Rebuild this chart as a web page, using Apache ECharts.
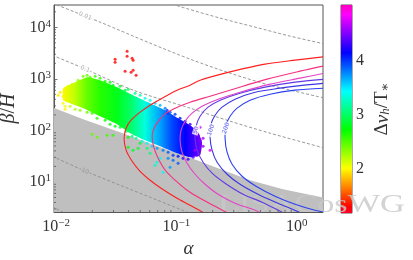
<!DOCTYPE html>
<html><head><meta charset="utf-8">
<script src="https://cdn.jsdelivr.net/npm/echarts@6/dist/echarts.min.js"></script>
<style>html,body{margin:0;padding:0;background:#fff}#c{width:413px;height:260px}</style>
</head><body><div id="c"></div>
<script>
// ---------- axis extents & ticks ----------
const X_MIN = 0.0096, X_MAX = 1.656;
const Y_MIN = 2.61, Y_MAX = 27100;
const C_MIN = 1.19, C_MAX = 5.03;
const xMinorTicks = [0.02,0.03,0.04,0.05,0.06,0.07,0.08,0.09,0.2,0.3,0.4,0.5,0.6,0.7,0.8,0.9];
const yMinorTicks = [3,4,5,6,7,8,9,20,30,40,50,60,70,80,90,200,300,400,500,600,700,800,900,2000,3000,4000,5000,6000,7000,8000,9000,20000];
const colorbarTicks = [2,3,4];

// ---------- excluded (grey) region upper boundary ----------
const excludedAlpha = [0.0093, 0.01677, 0.0340, 0.0732, 0.1486, 0.1905, 0.410, 0.771, 1.70];
const excludedBeta  = [280, 165, 92.3, 47.2, 26.4, 21.1, 10.8, 7.22, 4.95];

// ---------- grey dashed iso-lines ----------
const isoTopAlpha = [0.092, 0.1181, 0.2307, 0.451, 0.881, 1.722];
const isoTopBeta  = [28200, 23600, 15100, 10090, 6750, 4720];
const iso001Alpha = [0.00926, 0.0232, 0.0604, 0.130, 0.279, 0.601, 1.722];
const iso001Beta  = [29500, 12600, 4930, 2413, 1291, 755, 422];
const iso01Alpha  = [0.00926, 0.01677, 0.0437, 0.130, 0.279, 0.601, 1.722];
const iso01Beta   = [2884, 1614, 604, 270, 151, 88.3, 45.1];
const iso10Alpha  = [0.00926, 0.01677, 0.0340, 0.0604, 0.143];
const iso10Beta   = [31.6, 16.9, 8.63, 5.05, 2.25];
const iso100Alpha = [0.00926, 0.01259];
const iso100Beta  = [3.37, 2.25];

// ---------- coloured SNR contours ----------
const c1Alpha = [0.1834,0.1300,0.1013,0.07461,0.06044,0.04991,0.04282,0.03818,0.03674,0.03818,0.04200,0.04991,0.06044,0.07605,0.1013,0.1300,0.1574,0.2960,0.5462,0.9698,1.722];
const c1Beta  = [2.25,3.53,4.82,7.55,10.8,16.1,25.2,41.3,70.6,110.3,157.8,225.6,308.6,421.9,603.5,754.6,943.6,1411,1929,2307,2699];
const c2Alpha = [0.2904,0.2097,0.1574,0.1227,0.09754,0.0821,0.07181,0.06526,0.06281,0.06526,0.07181,0.0821,0.09754,0.1300,0.1905,0.2960,0.5675,1.067,1.722];
const c2Beta  = [2.25,3.37,4.82,6.90,10.8,16.1,26.4,45.1,77.2,110.3,157.8,215.8,270,352.8,461.4,631,987,1411,1804];
const c3Alpha = [0.5462,0.4510,0.3076,0.2222,0.1732,0.1430,0.1227,0.1115,0.1073,0.1094,0.1181,0.1351,0.1635,0.2222,0.3385,0.6010,1.067,1.722];
const c3Beta  = [2.25,2.82,3.86,5.77,9.02,14.1,23.1,37.7,64.5,100.9,150.9,215.8,295.1,403.5,551.7,789.1,1032,1290];
const c4Alpha = [0.8482,0.7278,0.5157,0.3584,0.2540,0.1980,0.1667,0.1486,0.1430,0.1458,0.1574,0.1834,0.2309,0.3385,0.5462,0.9698,1.722];
const c4Beta  = [2.25,2.70,4.04,5.77,9.44,14.8,24.1,41.3,70.6,120.7,188.6,282.2,385.9,527.6,690.0,862.9,987];
const c5Alpha = [1.174,1.008,0.7004,0.4776,0.3385,0.2639,0.2179,0.1980,0.1905,0.1942,0.2097,0.2399,0.3076,0.4510,0.7278,1.067,1.722];
const c5Beta  = [2.25,2.70,3.86,5.77,9.02,14.1,24.1,41.3,73.8,131.9,197.3,282.2,403.5,551.7,659.9,737.9,825.2];
const c6Alpha = [1.895,1.422,0.9698,0.6612,0.4597,0.3516,0.2904,0.2639,0.2540,0.2589,0.2795,0.3196,0.4099,0.6010,0.9698,1.722];
const c6Beta  = [2.47,2.82,3.69,5.28,8.25,12.9,22.1,37.7,70.6,126.2,188.6,270,385.9,504.5,603.5,659.9];

// ---------- contour labels ----------
const labelText  = ['0.01','0.1','10','50','100','200'];
const labelAlpha = [0.01742, 0.01742, 0.01742, 0.1458, 0.1942, 0.2589];
const labelBeta  = [16500, 1543, 16.1, 100.9, 100.9, 110.3];

// ---------- dense band of points (outline + colour along it) ----------
const bandAlpha = [0.01143,0.01438,0.01810,0.02321,0.03214,0.04365,0.06044,0.08055,0.1033,0.1300,0.1515,0.1635,0.1574,0.1300,0.1013,0.0732,0.05492,0.04121,0.03214,0.02321,0.01677,0.01307,0.01143];
const bandBeta  = [659.9,862.9,1079,943.6,690.0,482.5,337.5,246.8,172.5,126.2,92.3,59.0,33.0,30.2,36.1,49.3,64.5,88.2,131.9,188.6,270,337.5,385.9];
const bandStopAlpha = [0.01143,0.01438,0.01810,0.02321,0.03214,0.04121,0.05492,0.0732,0.0921,0.1181,0.1574];
const bandStopDv    = [2.0,2.2,2.45,2.62,2.8,3.0,3.35,3.7,3.95,4.15,4.45];

// ---------- individual points ----------
const pointAlpha = [0.01080,0.01143,0.01259,0.01358,0.01524,0.01677,0.01810,0.01917,0.02110,0.02321,0.02554,0.02811,0.02977,0.03404,0.03746,0.03967,0.04535,0.04991,0.05492,0.06044,0.06652,0.0732,0.08055,0.08863,0.09754,0.1073,0.1181,0.1300,0.1430,0.1515,0.1574,0.1667,
  0.01143,0.01188,0.01307,0.01438,0.01583,0.01810,0.01992,0.02192,0.02554,0.02811,0.03093,0.03404,0.03818,0.04282,0.04624,0.05187,0.05706,0.06281,0.06912,0.07752,0.08531,0.09389,0.1033,0.1137,0.1251,0.1377,0.1486,
  0.01992,0.02192,0.02653,0.02977,0.03967,0.04365,0.04991,0.05706,0.06044,0.06652,0.06912,0.07752,0.0732,0.08863,0.09389,0.1033,0.08531,0.03967,0.04803,
  0.08372,0.08531,0.1181,0.1574,0.1905,0.1430,0.1667,0.01188,0.01039,
  0.03093,0.03093,0.03892,0.03892,0.04282,0.04365,0.03746,0.04200,0.04365,0.04624];
const pointBeta = [551.7,461.4,721.6,789.1,943.6,1128,1180,1079,1128,1032,902.5,862.9,754.6,721.6,603.5,631,527.6,482.5,421.9,385.9,337.5,308.6,270,225.6,206.3,172.5,150.9,131.9,110.3,80.7,64.5,49.3,
  337.5,295.1,295.1,258,246.8,225.6,215.8,172.5,157.8,131.9,120.7,115.4,96.5,77.2,70.6,61.7,56.4,49.3,45.1,41.3,37.7,33.0,31.6,28.9,27.6,30.2,33.0,
  84.4,73.8,80.7,80.7,47.2,41.3,56.4,45.1,36.1,21.1,24.1,15.4,28.9,19.3,26.4,23.1,28.9,73.8,45.1,
  246.8,215.8,138.0,115.4,41.3,41.3,70.6,258,482.5,
  2413,2110,3451,2759,2523,2307,1411,1349,1476,1180];
const pointDv = [1.95,2.0,2.1,2.15,2.3,2.4,2.45,2.5,2.55,2.6,2.65,2.7,2.75,2.85,2.9,2.95,3.1,3.2,3.35,3.45,3.55,3.65,3.8,3.9,4.0,4.1,4.2,4.3,4.4,4.5,4.5,4.55,
  2.0,2.05,2.15,2.25,2.35,2.45,2.55,2.6,2.7,2.75,2.8,2.85,2.95,3.1,3.2,3.3,3.45,3.55,3.7,3.8,3.9,4.0,4.1,4.2,4.3,4.4,4.45,
  2.45,2.45,2.55,2.6,2.75,2.85,2.9,3.05,3.1,3.3,3.35,3.45,3.4,3.7,3.85,3.9,3.75,2.7,2.85,
  4.0,4.0,4.4,4.7,4.8,4.6,4.6,2.0,1.95,
  1.3,1.3,1.3,1.3,1.3,1.3,1.3,1.3,1.3,1.3];

// ---------- styling ----------
const SERIF = "'Liberation Serif','DejaVu Serif',serif";
const AX = '#555';
const TXT = '#333';
const curveColors = ['#ff1f1f','#f5307f','#e443c6','#6239e6','#3a36e4','#2c40f2'];
const labelRotate = [-22,-22,-22,72,72,72];
const labelColor  = ['#9a9a9a','#9a9a9a','#8a8a8a', curveColors[3], curveColors[4], curveColors[5]];
const labelBg     = ['#fff','#fff','#bfbfbf','#fff','#fff','#fff'];

// gist_rainbow colour map
const GR = [[0,[1,0,0.16]],[0.03,[1,0,0]],[0.215,[1,1,0]],[0.4,[0,1,0]],[0.586,[0,1,1]],[0.77,[0,0,1]],[0.954,[1,0,1]],[1,[1,0,0.75]]];
function cmap(t){
  t = Math.max(0, Math.min(1, t));
  for (let i = 1; i < GR.length; i++) {
    if (t <= GR[i][0]) {
      const t0 = GR[i-1][0], c0 = GR[i-1][1], t1 = GR[i][0], c1 = GR[i][1];
      const f = (t - t0) / (t1 - t0);
      const c = c0.map((v,k)=>Math.round(255*(v + (c1[k]-v)*f)));
      return 'rgb(' + c.join(',') + ')';
    }
  }
  return 'rgb(255,0,191)';
}
const norm = v => (v - C_MIN) / (C_MAX - C_MIN);
const vmColors = [];
for (let i = 0; i <= 60; i++) vmColors.push(cmap(i/60));

function powLabel(v){
  const e = Math.log10(v), r = Math.round(e);
  if (Math.abs(e - r) > 1e-6) return '';
  return '{b|10}{s|' + (r < 0 ? '\u2212' + (-r) : r) + '}';
}
const tickRich = {
  b: {fontSize: 16, fontFamily: SERIF, color: TXT, lineHeight: 18},
  s: {fontSize: 11, fontFamily: SERIF, color: TXT, lineHeight: 11, verticalAlign: 'top'}
};

// a curve drawn as a custom polyline through the axes' scales
function curveSeries(a, b, color, width, dashed, z){
  const k = Math.floor(a.length / 2);
  return {type:'custom', zlevel:1, z:z, silent:true, clip:true, data:[[a[k], b[k]]],
    renderItem:function(params, api){
      const pts = a.map((v,i)=>api.coord([v, b[i]]));
      return {type:'polyline', shape:{points:pts, smooth:0.3},
        style:{stroke:color, lineWidth:width, fill:null, lineDash: dashed ? [3,2] : null}};
    }};
}

const series = [];
// grey excluded region
series.push({type:'custom', zlevel:0, z:1, silent:true, clip:true, data:[[excludedAlpha[4], excludedBeta[4]]],
  renderItem:function(params, api){
    const pts = excludedAlpha.map((v,i)=>api.coord([v, excludedBeta[i]]));
    const br = api.coord([X_MAX, Y_MIN]), bl = api.coord([X_MIN, Y_MIN]);
    pts.push([br[0]+10, br[1]+10], [bl[0]-10, bl[1]+10]);
    return {type:'polygon', shape:{points:pts}, style:{fill:'#bfbfbf'}};
  }});
// dense band
series.push({type:'custom', zlevel:0, z:3, silent:true, clip:true, data:[[bandAlpha[5], bandBeta[5]]],
  renderItem:function(params, api){
    const pts = bandAlpha.map((a,i)=>api.coord([a, bandBeta[i]]));
    const xs = pts.map(p=>p[0]);
    const x0 = Math.min.apply(null, xs), x1 = Math.max.apply(null, xs);
    const stops = bandStopAlpha.map((a,i)=>{
      const px = api.coord([a, Y_MIN])[0];
      return {offset: Math.max(0, Math.min(1, (px-x0)/(x1-x0))), color: cmap(norm(bandStopDv[i]))};
    });
    return {type:'polygon', shape:{points:pts, smooth:0.15}, style:{fill: new echarts.graphic.LinearGradient(x0,0,x1,0,stops,true)}};
  }});
// individual points
const scatterIndex = series.length;
series.push({type:'scatter', zlevel:0, z:4, symbolSize:3, silent:true, data: pointAlpha.map((a,i)=>[a, pointBeta[i], pointDv[i]])});
// dashed iso-lines
[[isoTopAlpha,isoTopBeta],[iso001Alpha,iso001Beta],[iso01Alpha,iso01Beta],[iso10Alpha,iso10Beta],[iso100Alpha,iso100Beta]]
  .forEach(p => series.push(curveSeries(p[0], p[1], '#8c8c8c', 0.9, true, 2)));
// coloured contours
[[c1Alpha,c1Beta],[c2Alpha,c2Beta],[c3Alpha,c3Beta],[c4Alpha,c4Beta],[c5Alpha,c5Beta],[c6Alpha,c6Beta]]
  .forEach((p,i) => series.push(curveSeries(p[0], p[1], curveColors[i], 1.1, false, 5)));
// contour labels
series.push({type:'scatter', zlevel:1, z:6, symbolSize:0, silent:true,
  data: labelText.map((t,i)=>({value:[labelAlpha[i], labelBeta[i]],
    label:{show:true, position:'inside', formatter:t, rotate:labelRotate[i], color:labelColor[i], fontSize:6, fontFamily:'DejaVu Sans', backgroundColor:labelBg[i], padding:[0,1]}}))});
// minor ticks
series.push({type:'custom', zlevel:1, z:7, silent:true, clip:false, data: xMinorTicks.map(v=>[v, Y_MIN]),
  renderItem:function(params, api){const p=api.coord([api.value(0), Y_MIN]); return {type:'line', shape:{x1:p[0],y1:p[1],x2:p[0],y2:p[1]-2}, style:{stroke:AX, lineWidth:0.8}};}});
series.push({type:'custom', zlevel:1, z:7, silent:true, clip:false, data: yMinorTicks.map(v=>[X_MIN, v]),
  renderItem:function(params, api){const p=api.coord([X_MIN, api.value(1)]); return {type:'line', shape:{x1:p[0],y1:p[1],x2:p[0]+2,y2:p[1]}, style:{stroke:AX, lineWidth:0.8}};}});
// colour bar
series.push({type:'custom', xAxisIndex:1, yAxisIndex:1, zlevel:0, z:2, silent:true, data:[[0, C_MIN]],
  renderItem:function(params, api){
    const p0 = api.coord([0, C_MIN]), p1 = api.coord([1, C_MAX]);
    const stops = GR.map(s=>({offset: 1 - s[0], color: cmap(s[0])})).reverse();
    return {type:'rect', shape:{x:p0[0], y:p1[1], width:p1[0]-p0[0], height:p0[1]-p1[1]}, style:{fill: new echarts.graphic.LinearGradient(0,0,0,1,stops)}};
  }});

const option = {
  animation:false, textStyle:{fontFamily:SERIF},
  grid:[
    {left:54, top:5, width:269, height:207, show:true, borderColor:AX, borderWidth:1, backgroundColor:'transparent', outerBoundsMode:'none'},
    {left:341, top:5, width:11, height:208, show:true, borderColor:AX, borderWidth:1, backgroundColor:'transparent', outerBoundsMode:'none'}
  ],
  xAxis:[
    {type:'log', logBase:10, min:X_MIN, max:X_MAX, gridIndex:0, name:'α', nameLocation:'middle', nameGap:24,
     nameTextStyle:{fontSize:19, fontStyle:'italic', fontFamily:SERIF, color:TXT},
     axisLine:{show:true, lineStyle:{color:AX, width:1}},
     axisTick:{show:true, inside:true, length:3.5, lineStyle:{color:AX, width:0.8}},
     axisLabel:{show:true, margin:6, formatter:powLabel, rich:tickRich, showMinLabel:false, showMaxLabel:false},
     splitLine:{show:false}, minorTick:{show:false}},
    {type:'value', min:0, max:1, gridIndex:1, show:false}
  ],
  yAxis:[
    {type:'log', logBase:10, min:Y_MIN, max:Y_MAX, gridIndex:0, name:'{i|β}{r|/}{i|H}', nameLocation:'middle', nameGap:33, nameRotate:90,
     nameTextStyle:{rich:{i:{fontSize:20, fontStyle:'italic', fontFamily:SERIF, color:TXT}, r:{fontSize:20, fontFamily:SERIF, color:TXT}}},
     axisLine:{show:true, lineStyle:{color:AX, width:1}},
     axisTick:{show:true, inside:true, length:3.5, lineStyle:{color:AX, width:0.8}},
     axisLabel:{show:true, margin:3, formatter:powLabel, rich:tickRich, showMinLabel:false, showMaxLabel:false},
     splitLine:{show:false}, minorTick:{show:false}},
    {type:'value', min:C_MIN, max:C_MAX, gridIndex:1, position:'right', name:'{u|Δ}{i|v}{sb|h}{u|/T}{sb2|∗}', nameLocation:'middle', nameGap:21, nameRotate:90,
     nameTextStyle:{rich:{u:{fontSize:19, fontFamily:SERIF, color:TXT}, i:{fontSize:19, fontStyle:'italic', fontFamily:SERIF, color:TXT},
       sb:{fontSize:13, fontStyle:'italic', fontFamily:SERIF, color:TXT, verticalAlign:'bottom', lineHeight:13},
       sb2:{fontSize:13, fontFamily:SERIF, color:TXT, verticalAlign:'bottom', lineHeight:13}}},
     axisLine:{show:false},
     axisTick:{show:true, inside:false, length:3, customValues:colorbarTicks, lineStyle:{color:AX, width:0.8}},
     axisLabel:{show:true, margin:4, customValues:colorbarTicks, fontSize:16, fontFamily:SERIF, color:TXT},
     splitLine:{show:false}}
  ],
  visualMap:{type:'continuous', show:false, min:C_MIN, max:C_MAX, dimension:2, seriesIndex:scatterIndex, inRange:{color:vmColors}},
  graphic:[{type:'text', x:218, y:192, scaleX:1.32, zlevel:0, z:100, silent:true, style:{text:'LISACosWG', font:'26px '+SERIF, fill:'rgba(200,200,200,0.8)'}}],
  series: series
};
const chart = echarts.init(document.getElementById('c'), null, {renderer:'canvas'});
chart.setOption(option);
</script>
</body></html>
